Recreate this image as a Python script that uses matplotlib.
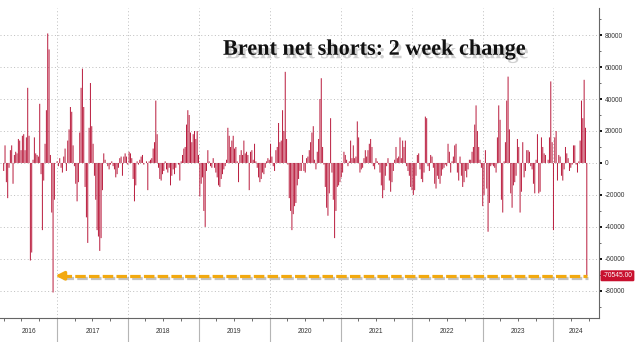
import numpy as np
import pandas as pd
import matplotlib
matplotlib.use('Agg')
import matplotlib.pyplot as plt
import matplotlib.dates as mdates
import matplotlib.ticker as mticker
import matplotlib.patheffects as pe


# 2 week change in Brent net shorts, weekly, thousands of contracts
chg_2016_17 = [-5, 11, -12, -22, -3, 8, 11, -13, 5, 7,
               6, 15, 14, 8, 17, 18, 8, 16, 47, 17,
               -61, -56, 2, 16, 6, 5, 4, 37, -7, -42,
               -11, 12, 33, 81, 71, 5, -31, -81, -23, 0,
               1, -2, 3, -3, -6, 4, 9, -5, 14, 21,
               35, 32, 11, -2, -13, -24, -12, 19, 47, 59,
               35, -15, -34, -50, 22, 50, 23, 12, -8, -23,
               -42, -46, -55, -47]
chg_2017_18 = [-17, 6, 2, 0, -2, -4, -1, 1, -2, -4,
               -9, -7, -3, 3, 4, -8, 4, 6, 4, -1,
               7, 6, 3, -10, -24, -14, 1, -1, 2, 4,
               5, -1, 0, 1, -17, 1, 2, 3, 9, 13,
               39, 18, -3, -10, -11, -7, -5, 1, -4, -6,
               -3, -14, -8, -4, -7, -3, 0, -1, -11, 1,
               5, 9, 10, 24, 33, 30, 19, 13, 18, 20,
               15, 20, 5, -21]
chg_2019_20 = [-13, -9, -30, -40, -5, 8, 1, -2, -3, 3,
               -3, -6, -9, -14, -15, -10, -7, -4, -2, 2,
               22, 17, 10, 14, 17, 9, 10, 1, -12, 5,
               8, 5, 14, 6, 7, 5, -17, 7, 8, 2,
               12, 1, -3, -9, -12, -10, -6, -7, -3, 1,
               3, 2, 12, 4, -2, -5, 8, 10, 25, 13,
               14, 33, 20, 57, 15, -1, -22, -30, -42, -32,
               -27, -25, -14, -10, -5]
chg_2020_21 = [-5, 5, -5, -6, 3, 4, 8, 13, 19, 23,
               2, -4, 7, 15, 40, 53, 10, -1, -15, -28,
               -33, -19, 28, -6, -23, -47, -30, -15, -14, -12,
               -9, -6, 7, 5, 2, -2, 1, 14, 3, 11,
               3, 4, 26, 16, -6, -4, -3, 3, 8, 4,
               8, 12, 15, 10, -2, -4, 3, 1, -1, -6,
               -14, -22, -17, -8, -2, 3, -11, -18, -12, -5,
               2, 10, 3, 4, 16]
chg_2022_24 = [3, 14, 10, 14, -2, -5, -8, -15, -17, -20,
               -17, -8, 5, 6, -4,
               -10, -12, -6, 29, 28, -2, -5, 5, 4, -3,
               -13, -16, -8, -10, -13, -8, -4, -3, -1, -2,
               12, 7, -6, 1, 4, 11, 12, -6, -11, 4,
               -8, -15, -12, -5, -9, -4, 2, 2, 7, 10,
               24, 36, 20, 10, 2, -3, -27, -20, 8, -16,
               -43, -25, -2, -1, -2, -3, -6, 16, 36, 27,
               -23, -31, 1, 13, 39, 54, 21, -19, -28, -14,
               -12, -8, 15, 10, -31, -18, 13, -9, -5, 8,
               8, 7, -2, -4, -13, -19, 2, 18, -19, -18,
               16, 10, 6, 5, 0, 2, 16, 51, 13, -42,
               16, 20, -11, 5, 4, -8, -11, -4, 10, 6,
               3, -5, -3, -1, 11, 11, -1, -6, 1, 14,
               39, 28, 52, 22, -70.545]

chg = np.array(chg_2016_17 + chg_2017_18 + chg_2019_20 + chg_2020_21 + chg_2022_24) * 1000
dates = pd.date_range('2016-04-01', '2024-06-21', periods=len(chg))

x_start = pd.Timestamp('2016-03-13')
x_end = pd.Timestamp('2024-08-23')
years = list(range(2016, 2025))
y_ticks = [-80000, -60000, -40000, -20000, 0, 20000, 40000, 60000, 80000]

bar_red = '#b8183a'
arrow_gold = '#f2a90f'
label_grey = '#333333'

fig = plt.figure(figsize=(6.4, 3.42), dpi=100)
ax = fig.add_axes([0.0, 0.070, 0.936, 0.907])

ax.bar(dates, chg, width=5.0, color=bar_red, linewidth=0, snap=False, zorder=3)

ax.set_xlim(x_start, x_end)
ax.set_ylim(-97000, 97000)

# right hand value axis
ax.yaxis.tick_right()
ax.set_yticks(y_ticks)
ax.yaxis.set_major_formatter(mticker.FuncFormatter(lambda v, p: '%d' % v))
ax.yaxis.set_minor_locator(mticker.MultipleLocator(10000))
ax.tick_params(axis='y', which='major', direction='out', length=2.5, width=1.3,
               color='black', labelsize=4.8, labelcolor=label_grey, pad=1.5)
ax.tick_params(axis='y', which='minor', direction='out', length=1.5, width=0.6, color='#555555')
for t in ax.get_yticklabels():
    t.set_fontfamily('Liberation Sans')

# date axis: year separators and quarter ticks
ax.xaxis.set_major_locator(mdates.YearLocator())
ax.xaxis.set_minor_locator(mdates.MonthLocator(bymonth=[4, 7, 10]))
ax.xaxis.set_major_formatter(mticker.NullFormatter())
ax.tick_params(axis='x', which='major', direction='out', length=18, width=0.8, color='#b5b5b5')
ax.tick_params(axis='x', which='minor', direction='out', length=2, width=0.6, color='#555555')

for yr in years:
    lo = max(pd.Timestamp(yr, 1, 1), x_start)
    hi = min(pd.Timestamp(yr + 1, 1, 1), x_end)
    ax.text(lo + (hi - lo) / 2, -0.042, str(yr), transform=ax.get_xaxis_transform(),
            ha='center', va='center', fontsize=4.8, color=label_grey,
            family='Liberation Sans')

ax.grid(True, axis='both', which='major', color='#bdbdbd', linestyle=(0, (1, 2.5)),
        linewidth=0.7, zorder=0)

for side in ['left', 'top']:
    ax.spines[side].set_visible(False)
ax.spines['bottom'].set_color('#666666')
ax.spines['bottom'].set_linewidth(0.8)
ax.spines['right'].set_color('#666666')
ax.spines['right'].set_linewidth(0.8)

# dashed arrow from latest print back to the 2016 low
last = chg[-1]
low_idx = int(np.argmin(chg[:100]))
tip = dates[low_idx] + pd.Timedelta(days=12)
shadow = [pe.SimpleLineShadow(offset=(1, -1.5), shadow_color='#888888', alpha=0.5), pe.Normal()]
ax.plot([tip + pd.Timedelta(days=30), dates[-1]], [last, last], color=arrow_gold, lw=2.3,
        linestyle=(0, (3.3, 1.0)), solid_capstyle='butt', zorder=4, path_effects=shadow)
ax.annotate('', xy=(tip, last), xytext=(tip + pd.Timedelta(days=45), last),
            arrowprops=dict(arrowstyle='-|>', color=arrow_gold, lw=2.3,
                            mutation_scale=12, shrinkA=0, shrinkB=0),
            zorder=4)

# latest value tag on the axis
ax.annotate('%.2f' % last, xy=(1.0, last), xycoords=('axes fraction', 'data'),
            xytext=(2.5, 0), textcoords='offset points', ha='left', va='center',
            fontsize=4.8, color='white', family='Liberation Sans',
            bbox=dict(boxstyle='round,pad=0.3,rounding_size=0.2', fc='#c8102e', ec='none'),
            annotation_clip=False)

ax.text(0.626, 0.865, 'Brent net shorts: 2 week change', transform=ax.transAxes,
        ha='center', va='center', fontsize=16, fontweight='bold',
        family='Liberation Serif', color='#111111', zorder=5,
        path_effects=[pe.withSimplePatchShadow(offset=(2, -2.5), shadow_rgbFace='#999999', alpha=0.45)])

fig.savefig('out.png', dpi=100)
